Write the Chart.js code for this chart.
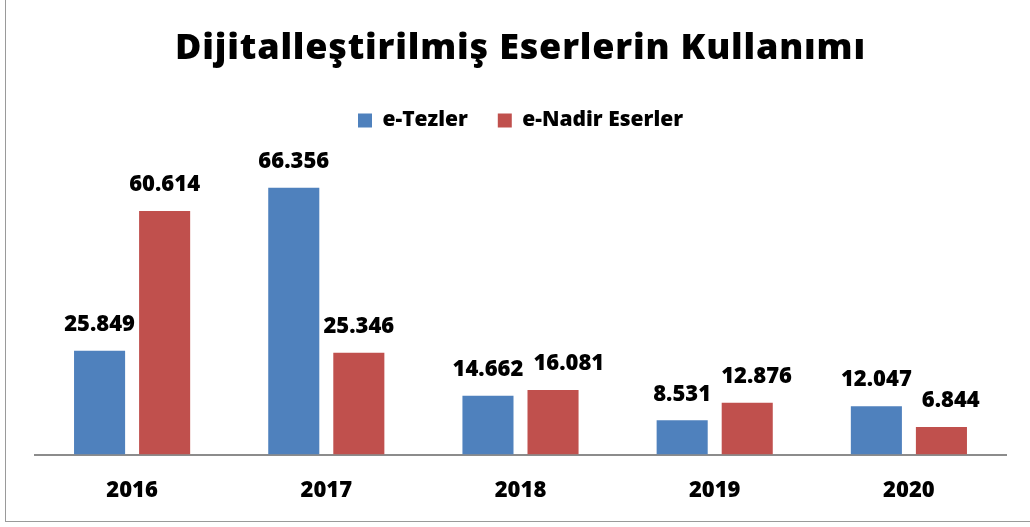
<!DOCTYPE html>
<html>
<head>
<meta charset="utf-8">
<script src="https://cdn.jsdelivr.net/npm/chart.js@4/dist/chart.umd.min.js"></script>
<style>
  html, body { margin: 0; padding: 0; background: #fff; }
  #wrap { position: relative; width: 1030px; height: 527px; overflow: hidden; }
  #frame { position: absolute; left: 5px; top: -20px; width: 1100px; height: 542px; border: 1.5px solid #9a9a9a; box-sizing: border-box; }
  canvas { position: absolute; left: 0; top: 0; }
</style>
</head>
<body>
<div id="wrap">
  <div id="frame"></div>
  <canvas id="c" width="1030" height="527"></canvas>
</div>
<script>
const categories = ['2016', '2017', '2018', '2019', '2020'];
const seriesNames = ['e-Tezler', 'e-Nadir Eserler'];
const eTezler = [25849, 66356, 14662, 8531, 12047];
const eNadirEserler = [60614, 25346, 16081, 12876, 6844];
const titleText = 'Dijitalleştirilmiş Eserlerin Kullanımı';

const FONT = "'Open Sans', Lato, 'DejaVu Sans', sans-serif";
const W = '800';

function fmt(v) {
  return String(v).replace(/\B(?=(\d{3})+(?!\d))/g, '.');
}

const titleAndLabels = {
  id: 'titleAndLabels',
  afterDraw(chart) {
    const ctx = chart.ctx;
    const area = chart.chartArea;
    ctx.save();
    // title
    ctx.font = W + " 36px " + FONT;
    ctx.fillStyle = '#000';
    ctx.textAlign = 'center';
    ctx.textBaseline = 'alphabetic';
    if ('letterSpacing' in ctx) ctx.letterSpacing = '0.8px';
    ctx.fillText(titleText, (area.left + area.right) / 2, 59);
    if ('letterSpacing' in ctx) ctx.letterSpacing = '0px';
    // value labels (second label nudged right when it would collide with the first)
    ctx.font = W + " 22px " + FONT;
    ctx.textBaseline = 'middle';
    const m0 = chart.getDatasetMeta(0), m1 = chart.getDatasetMeta(1);
    const d0 = chart.data.datasets[0].data, d1 = chart.data.datasets[1].data;
    for (let j = 0; j < d0.length; j++) {
      const t0 = fmt(d0[j]), t1 = fmt(d1[j]);
      const b0 = m0.data[j], b1 = m1.data[j];
      const y0 = b0.y - 26, y1 = b1.y - 26;
      const w0 = ctx.measureText(t0).width, w1 = ctx.measureText(t1).width;
      let x1 = b1.x;
      if (Math.abs(y0 - y1) < 22) {
        const right0 = b0.x + w0 / 2, left1 = x1 - w1 / 2;
        if (right0 + 10 > left1) x1 += right0 + 10 - left1;
      }
      ctx.fillText(t0, b0.x, y0);
      ctx.fillText(t1, x1, y1);
    }
    ctx.restore();
  }
};

new Chart(document.getElementById('c'), {
  type: 'bar',
  data: {
    labels: categories,
    datasets: [
      { label: seriesNames[0], data: eTezler, backgroundColor: '#4F81BD' },
      { label: seriesNames[1], data: eNadirEserler, backgroundColor: '#C0504D' }
    ]
  },
  options: {
    responsive: false,
    animation: false,
    devicePixelRatio: 1,
    categoryPercentage: 0.67,
    barPercentage: 0.785,
    layout: { padding: { left: 35, right: 24, top: 80, bottom: 0 } },
    plugins: {
      title: { display: false },
      legend: {
        display: true,
        labels: {
          color: '#000',
          font: { family: FONT, size: 21, weight: W },
          boxWidth: 14,
          boxHeight: 14,
          padding: 30
        }
      },
      tooltip: { enabled: false }
    },
    scales: {
      x: {
        grid: { display: false, drawTicks: false },
        border: { display: true, color: '#8c8c8c', width: 2 },
        ticks: { color: '#000', font: { family: FONT, size: 22, weight: W }, padding: 23 }
      },
      y: {
        display: false,
        min: 0,
        max: 78000
      }
    }
  },
  plugins: [titleAndLabels]
});
</script>
</body>
</html>
